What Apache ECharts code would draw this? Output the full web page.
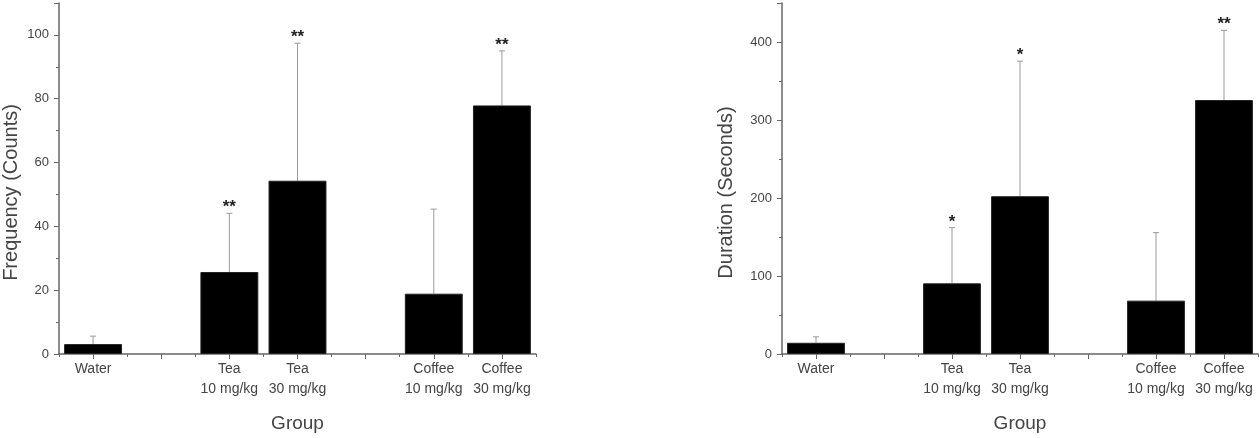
<!DOCTYPE html>
<html>
<head>
<meta charset="utf-8">
<script src="https://cdn.jsdelivr.net/npm/echarts@6/dist/echarts.min.js"></script>
<style>
  html, body { margin: 0; padding: 0; background: #fff; }
  #chart { width: 1259px; height: 438px; }
</style>
</head>
<body>
<div id="chart"></div>
<script>
// categories (blank slots keep the gaps between groups)
var groups = ['Water', ' ', 'Tea\n10 mg/kg', 'Tea\n30 mg/kg', '  ', 'Coffee\n10 mg/kg', 'Coffee\n30 mg/kg'];

// frequency panel
var freqMean = [3.1, null, 25.7, 54.3, null, 18.9, 77.9];
var freqSd   = [2.5, null, 18.4, 43.1, null, 26.5, 17.1];
var freqSig  = ['', '', '**', '**', '', '', '**'];
var freqTicks = { min: 0, max: 110, interval: 20 };

// duration panel
var durMean = [14.4, null, 90.6, 202.3, null, 68.4, 325.6];
var durSd   = [7.6, null, 71.4, 173.1, null, 87.2, 89.4];
var durSig  = ['', '', '*', '*', '', '', '**'];
var durTicks = { min: 0, max: 450, interval: 100 };

var txt = '#444';
var font = 'Liberation Sans, Arial, sans-serif';

function errData(mean, sd, sig) {
  var out = [];
  for (var i = 0; i < mean.length; i++) {
    if (mean[i] == null) continue;
    out.push([i, mean[i], mean[i] + sd[i], sig[i]]);
  }
  return out;
}

function renderErr(params, api) {
  var p0 = api.coord([api.value(0), api.value(1)]);
  var p1 = api.coord([api.value(0), api.value(2)]);
  var sig = groupsSig[params.seriesIndex][params.dataIndex];
  var kids = [
    { type: 'line', shape: { x1: p0[0], y1: p0[1], x2: p1[0], y2: p1[1] },
      style: { stroke: '#9a9a9a', lineWidth: 1 } },
    { type: 'line', shape: { x1: p1[0] - 3, y1: p1[1], x2: p1[0] + 3, y2: p1[1] },
      style: { stroke: '#9a9a9a', lineWidth: 1 } }
  ];
  if (sig) {
    kids.push({ type: 'text', x: p1[0], y: p1[1] + 3,
      style: { text: sig, fill: '#222', font: 'bold 17px ' + font, align: 'center', verticalAlign: 'bottom' } });
  }
  return { type: 'group', children: kids };
}

var freqErr = errData(freqMean, freqSd, freqSig);
var durErr = errData(durMean, durSd, durSig);
var groupsSig = {
  1: freqErr.map(function (d) { return d[3]; }),
  3: durErr.map(function (d) { return d[3]; })
};

function xAxes(gi) {
  return [
    { type: 'category', gridIndex: gi, data: groups,
      axisLine: { lineStyle: { color: '#666', width: 1.5 } },
      axisTick: { show: true, length: 3, inside: false, lineStyle: { color: '#666' } },
      axisLabel: { color: txt, fontFamily: font, fontSize: 14, interval: 0, lineHeight: 20, margin: 5 },
      name: 'Group', nameLocation: 'middle', nameGap: 60,
      nameTextStyle: { color: txt, fontFamily: font, fontSize: 19 } },
    { type: 'category', gridIndex: gi, data: groups, position: 'bottom',
      axisLine: { show: false },
      axisTick: { show: true, alignWithLabel: true, length: 5, lineStyle: { color: '#666' } },
      axisLabel: { show: false } }
  ];
}

function yAxis(gi, t, name, gap) {
  return { type: 'value', gridIndex: gi, min: t.min, max: t.max, interval: t.interval,
    axisLine: { show: true, lineStyle: { color: '#666', width: 1.5 } },
    axisTick: { show: true, length: 5, lineStyle: { color: '#666' } },
    minorTick: { show: true, splitNumber: 2, length: 3, lineStyle: { color: '#666' } },
    splitLine: { show: false },
    axisLabel: { color: txt, fontFamily: font, fontSize: 13, showMaxLabel: false, margin: 10 },
    name: name, nameLocation: 'middle', nameGap: gap,
    nameTextStyle: { color: txt, fontFamily: font, fontSize: 20, padding: [0, 28, 0, 0] } };
}

var barStyle = { color: '#000', borderColor: '#222', borderWidth: 1 };

var chart = echarts.init(document.getElementById('chart'));
chart.setOption({
  animation: false,
  backgroundColor: '#fff',
  grid: [
    { left: 59, right: 723, top: 3, bottom: 82 },
    { left: 782, right: 1, top: 3, bottom: 83 }
  ],
  xAxis: xAxes(0).concat(xAxes(1)),
  yAxis: [
    yAxis(0, freqTicks, 'Frequency (Counts)', 38),
    yAxis(1, durTicks, 'Duration (Seconds)', 46)
  ],
  series: [
    { type: 'bar', xAxisIndex: 0, yAxisIndex: 0, data: freqMean, barCategoryGap: '15%', itemStyle: barStyle },
    { type: 'custom', xAxisIndex: 0, yAxisIndex: 0, data: freqErr, renderItem: renderErr, z: 1 },
    { type: 'bar', xAxisIndex: 2, yAxisIndex: 1, data: durMean, barCategoryGap: '15%', itemStyle: barStyle },
    { type: 'custom', xAxisIndex: 2, yAxisIndex: 1, data: durErr, renderItem: renderErr, z: 1 }
  ]
});
</script>
</body>
</html>
